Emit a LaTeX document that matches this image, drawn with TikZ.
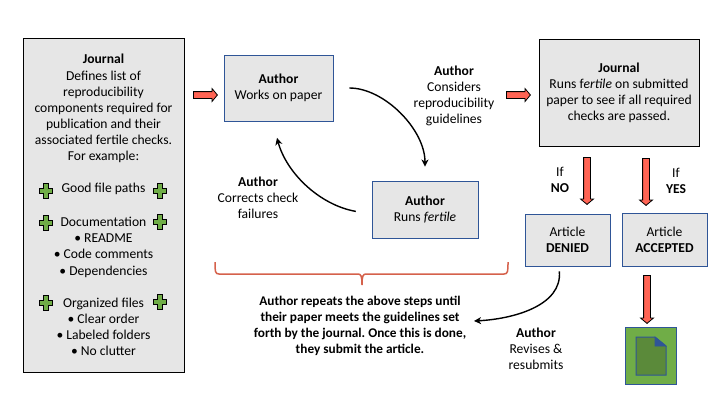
\documentclass[tikz,border=0pt]{standalone}
\usepackage{fontspec}
\setmainfont{Carlito}
\usetikzlibrary{shapes.arrows,arrows.meta}

\definecolor{boxgray}{HTML}{E6E6E6}
\definecolor{boxblue}{HTML}{2F5597}
\definecolor{arrowred}{HTML}{FF6454}
\definecolor{bracered}{HTML}{D5614B}
\definecolor{plusgreen}{HTML}{70AD47}
\definecolor{docgreen}{HTML}{5B8A3A}

\tikzset{
	every node/.style={font=\fontsize{13.6}{16.1}\selectfont\frenchspacing, align=center, inner sep=0pt},
	journalbox/.style={draw=black, fill=boxgray, line width=0.9pt},
	authorbox/.style={draw=boxblue, fill=boxgray, line width=0.9pt},
	blockarrow/.style={single arrow, draw=black, fill=arrowred, line width=0.8pt, inner ysep=3pt,
		minimum height=24pt, single arrow head extend=3pt, single arrow tip angle=100},
	downarrow/.style={blockarrow, rotate=-90},
	curvearrow/.style={line width=1.4pt, -{Stealth[length=7pt,width=7pt,inset=2pt]}},
	greenplus/.pic={
		\draw[fill=plusgreen, line width=0.8pt] (-2.5,-7.5) -- (2.5,-7.5) -- (2.5,-2.5) -- (6.5,-2.5)
			-- (6.5,2.5) -- (2.5,2.5) -- (2.5,7.5) -- (-2.5,7.5) -- (-2.5,2.5) -- (-6.5,2.5)
			-- (-6.5,-2.5) -- (-2.5,-2.5) -- cycle;
	}
}

\begin{document}
\begin{tikzpicture}[x=1pt,y=-1pt]
	\useasboundingbox (0,0) rectangle (720,405);

	% boxes
	\node[journalbox, minimum width=161pt, minimum height=334pt] (defs) at (103.5,205) {\textbf{Journal}\\
		Defines list of\\ reproducibility\\ components required for\\ publication and their\\ associated fertile checks.\\ For example:\\[16pt]
		Good file paths\\[18pt]
		Documentation\\ • README\\ • Code comments\\ • Dependencies\\[16pt]
		Organized files\\ • Clear order\\ • Labeled folders\\ • No clutter};
	\node[authorbox, minimum width=109pt, minimum height=66pt] (work) at (278.5,88) {\textbf{Author}\\ Works on paper};
	\node[authorbox, minimum width=106pt, minimum height=57pt] (runs) at (425,209.5) {\textbf{Author}\\ Runs \textit{fertile}};
	\node[journalbox, minimum width=160pt, minimum height=107pt] (check) at (619,92.5) {\textbf{Journal}\\
		Runs f\textit{ertile} on submitted\\ paper to see if all required\\ checks are passed.};
	\node[authorbox, minimum width=85pt, minimum height=52pt] (denied) at (567.5,240) {Article\\ \textbf{DENIED}};
	\node[authorbox, minimum width=85pt, minimum height=53pt] (accepted) at (664.5,239.5) {Article\\ \textbf{ACCEPTED}};
	\node[authorbox, fill=plusgreen, minimum width=51pt, minimum height=57pt] (published) at (650.5,355.5) {};

	% document icon
	\draw[draw=boxblue, fill=docgreen, line width=1pt] (636,337) -- (655,337) -- (666,346) -- (666,375) -- (636,375) -- cycle;
	\draw[draw=boxblue, fill=boxblue, line width=0.6pt] (655,337) -- (666,346) -- (655,346) -- cycle;

	% plus signs
	\foreach \px/\py in {46/191,160/191,46/223,160/222,46/303,160/302}
		\pic at (\px,\py) {greenplus};

	% labels
	\node (considers) at (454,96) {\textbf{Author}\\ Considers\\ reproducibility\\ guidelines};
	\node (corrects) at (258,198) {\textbf{Author}\\ Corrects check\\ failures};
	\node (ifno) at (560,180) {If\\ \textbf{NO}};
	\node (ifyes) at (676,181) {If\\ \textbf{YES}};
	\node[font=\fontsize{13.3}{16.1}\selectfont\frenchspacing\bfseries] (repeats) at (360,326) {Author repeats the above steps until\\
		their paper meets the guidelines set\\ forth by the journal. Once this is done,\\ they submit the article.};
	\node (revises) at (536,349) {\textbf{Author}\\ Revises \&\\ resubmits};

	% red block arrows
	\node[blockarrow] (defstowork) at (204,95) {};
	\node[blockarrow] (considerstocheck) at (517,95) {};
	\node[downarrow, minimum height=47pt] (checktodenied) at (587,179.5) {};
	\node[downarrow, minimum height=47pt] (checktoaccepted) at (646,180.5) {};
	\node[downarrow, minimum height=48pt] (acceptedtopublished) at (647,298) {};

	% curved arrows
	\coordinate (repeatsend) at (474,321);
	\draw[curvearrow, shorten <=16pt, shorten >=14pt] (work.east) to[out=0, in=90] (runs.north);
	\draw[curvearrow, shorten <=16pt, shorten >=17pt] (runs.185) to[out=170, in=-75] (work.260);
	\draw[curvearrow, shorten <=5pt] (denied.252) to[out=-85, in=3] (repeatsend);

	% brace under the loop
	\draw[draw=bracered, line width=1.5pt] (215,262) .. controls (215,271) and (215,274) .. (219,274)
		-- (358,274) .. controls (361,274) and (362,276) .. (362,285)
		.. controls (362,276) and (363,274) .. (366,274)
		-- (504,274) .. controls (508,274) and (508,271) .. (508,262);
\end{tikzpicture}
\end{document}
